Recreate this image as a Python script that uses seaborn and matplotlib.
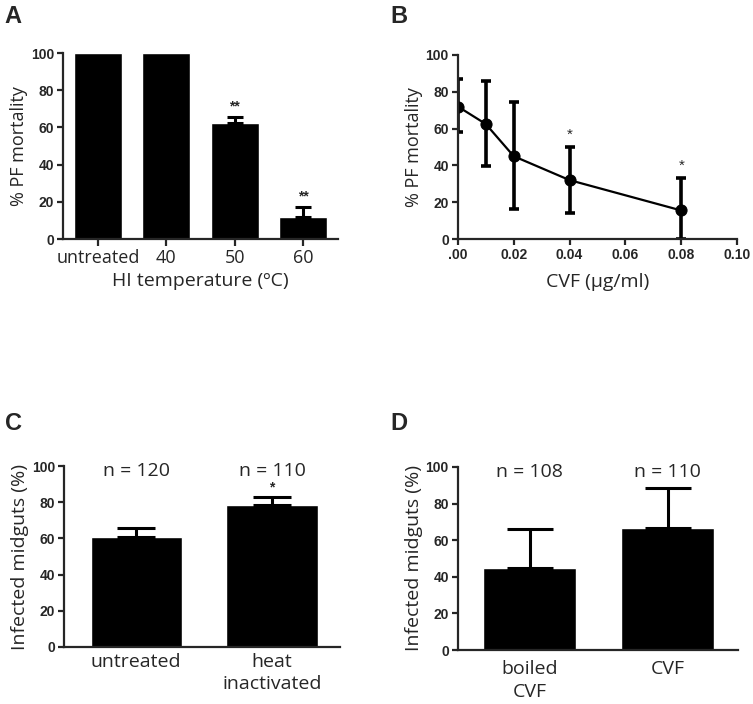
import pandas as pd
import seaborn as sns
import matplotlib.pyplot as plt

# Panel A: PF mortality vs heat inactivation temperature
temp_labels = ['untreated', '40', '50', '60']
temp_mortality = [100, 100, 62.5, 12]
temp_err = [0, 0, 3.2, 5]
temp_stars = ['', '', '**', '**']

# Panel B: PF mortality vs CVF concentration
cvf_dose = [0.0, 0.01, 0.02, 0.04, 0.08]
cvf_mortality = [72, 62.5, 45, 32, 15.5]
cvf_err_low = [14, 23, 28.5, 18, 15.5]
cvf_err_high = [15, 23.5, 29.5, 18, 17.5]
cvf_stars = ['', '', '', '*', '*']

# Panel C: infected midguts, untreated vs heat inactivated
c_labels = ['untreated', 'heat\ninactivated']
c_values = [61, 78.5]
c_err = [5, 4.5]
c_n = ['n = 120', 'n = 110']
c_stars = ['', '*']

# Panel D: infected midguts, boiled CVF vs CVF
d_labels = ['boiled\nCVF', 'CVF']
d_values = [45, 66.5]
d_err = [21, 22]
d_n = ['n = 108', 'n = 110']

sns.set_theme(style='ticks')
plt.rcParams['font.family'] = ['Liberation Sans', 'DejaVu Sans']
plt.rcParams['axes.linewidth'] = 1.6
plt.rcParams['xtick.major.width'] = 1.6
plt.rcParams['ytick.major.width'] = 1.6

label_font = {'family': 'Open Sans'}

fig = plt.figure(figsize=(7.53, 7.04), dpi=100)
axA = fig.add_axes([0.0837, 0.6605, 0.365, 0.264])
axB = fig.add_axes([0.608, 0.6605, 0.371, 0.2614])
axC = fig.add_axes([0.085, 0.081, 0.3665, 0.257])
axD = fig.add_axes([0.608, 0.0767, 0.372, 0.26])


def bar_panel(ax, labels, values, errs, capsize, width, lab_size):
    df = pd.DataFrame({'group': labels, 'value': values})
    sns.barplot(data=df, x='group', y='value', color='black', width=width,
                saturation=1, ax=ax)
    xs = [p.get_x() + p.get_width() / 2 for p in ax.patches]
    for x, v, e in zip(xs, values, errs):
        if e > 0:
            ax.errorbar([x], [v], yerr=[[0], [e]], fmt='none', ecolor='black',
                        elinewidth=2.2, capsize=capsize, capthick=2.2)
    ax.set_ylim(0, 100)
    ax.set_yticks([0, 20, 40, 60, 80, 100])
    ax.tick_params(axis='y', labelsize=10, length=4.5, pad=2)
    for t in ax.get_yticklabels():
        t.set_fontweight('bold')
    ax.tick_params(axis='x', labelsize=lab_size)
    for t in ax.get_xticklabels():
        t.set_fontfamily('Open Sans')
        t.set_linespacing(1.35)
    ax.set_xlabel('')
    sns.despine(ax=ax)
    return xs


# --- A ---
xs = bar_panel(axA, temp_labels, temp_mortality, temp_err, 6, 0.7, 13)
axA.set_xlim(-0.51, 3.51)
axA.tick_params(axis='x', length=5, pad=2)
axA.set_xlabel('HI temperature (ºC)', fontsize=14, fontdict=label_font, labelpad=4)
axA.set_ylabel('% PF mortality', fontsize=13, fontdict=label_font, labelpad=2)
for x, v, e, s in zip(xs, temp_mortality, temp_err, temp_stars):
    if s:
        axA.text(x, v + e + 2, s, ha='center', va='bottom', fontsize=10, fontweight='bold')

# --- B ---
df_b = pd.DataFrame({'dose': cvf_dose, 'mortality': cvf_mortality})
sns.lineplot(data=df_b, x='dose', y='mortality', color='black', marker='o',
             markersize=8, linewidth=1.6, markeredgecolor='black', ax=axB)
axB.errorbar(cvf_dose, cvf_mortality, yerr=[cvf_err_low, cvf_err_high], fmt='none',
             ecolor='black', elinewidth=2.6, capsize=3.5, capthick=2.6)
for x, v, e, s in zip(cvf_dose, cvf_mortality, cvf_err_high, cvf_stars):
    if s:
        axB.text(x, v + e + 3, s, ha='center', va='bottom', fontsize=11)
axB.set_xlim(0, 0.1)
axB.set_ylim(0, 100)
axB.set_xticks([0, 0.02, 0.04, 0.06, 0.08, 0.10])
axB.set_xticklabels(['.00', '0.02', '0.04', '0.06', '0.08', '0.10'])
axB.set_yticks([0, 20, 40, 60, 80, 100])
axB.tick_params(labelsize=10, length=4.5, pad=2)
for t in axB.get_xticklabels() + axB.get_yticklabels():
    t.set_fontweight('bold')
axB.set_xlabel('CVF (μg/ml)', fontsize=14, fontdict=label_font, labelpad=8)
axB.set_ylabel('% PF mortality', fontsize=13, fontdict=label_font, labelpad=2)
sns.despine(ax=axB)

# --- C ---
xs = bar_panel(axC, c_labels, c_values, c_err, 14, 0.67, 14)
axC.set_xlim(-0.53, 1.5)
axC.tick_params(axis='x', length=0, pad=4)
axC.set_ylabel('Infected midguts (%)', fontsize=14, fontdict=label_font, labelpad=2)
for x, n in zip(xs, c_n):
    axC.text(x, 97, n, ha='center', va='center', fontsize=14, fontfamily='Open Sans')
for x, v, e, s in zip(xs, c_values, c_err, c_stars):
    if s:
        axC.text(x, v + e + 1.5, s, ha='center', va='bottom', fontsize=10, fontweight='bold')

# --- D ---
xs = bar_panel(axD, d_labels, d_values, d_err, 16.5, 0.67, 14)
axD.set_xlim(-0.52, 1.51)
axD.tick_params(axis='x', length=0, pad=7)
axD.set_ylabel('Infected midguts (%)', fontsize=14, fontdict=label_font, labelpad=2)
for x, n in zip(xs, d_n):
    axD.text(x, 97, n, ha='center', va='center', fontsize=14, fontfamily='Open Sans')

# panel letters
for lab, (x, y) in zip('ABCD', [(0.006, 0.993), (0.518, 0.993), (0.006, 0.415), (0.518, 0.415)]):
    fig.text(x, y, lab, fontsize=17, fontweight='bold', ha='left', va='top')

fig.savefig('out.png', dpi=100)
